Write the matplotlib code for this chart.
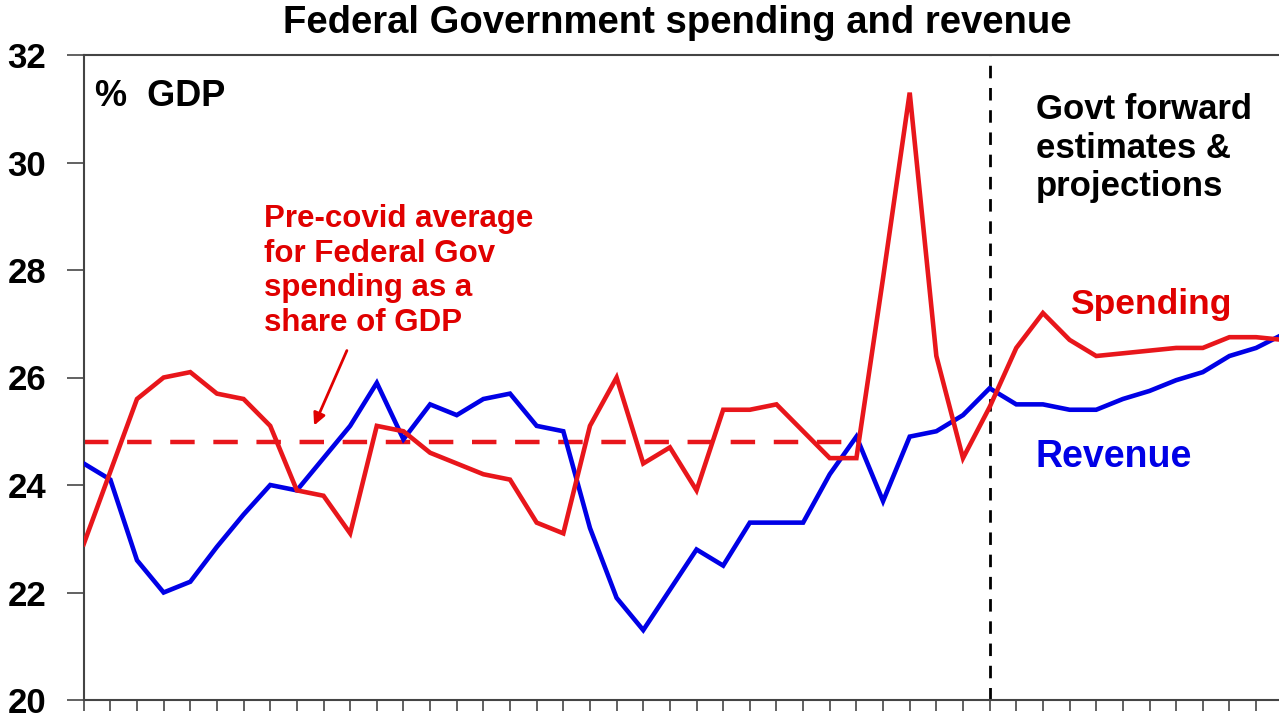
import numpy as np
import matplotlib
matplotlib.use("Agg")
import matplotlib.pyplot as plt

plt.rcParams["font.family"] = ["Liberation Sans", "DejaVu Sans"]

# annual points, financial years (x labels cut off in the source)
spending = [22.9, 24.25, 25.6, 26.0, 26.1, 25.7, 25.6, 25.1, 23.9, 23.8,
            23.1, 25.1, 25.0, 24.6, 24.4, 24.2, 24.1, 23.3, 23.1, 25.1,
            26.0, 24.4, 24.7, 23.9, 25.4, 25.4, 25.5, 25.0, 24.5, 24.5,
            27.85, 31.3, 26.4, 24.5, 25.45, 26.55, 27.2, 26.7, 26.4, 26.45,
            26.5, 26.55, 26.55, 26.75, 26.75, 26.7]
revenue = [24.4, 24.1, 22.6, 22.0, 22.2, 22.85, 23.45, 24.0, 23.9, 24.5,
           25.1, 25.9, 24.85, 25.5, 25.3, 25.6, 25.7, 25.1, 25.0, 23.2,
           21.9, 21.3, 22.05, 22.8, 22.5, 23.3, 23.3, 23.3, 24.2, 24.9,
           23.7, 24.9, 25.0, 25.3, 25.8, 25.5, 25.5, 25.4, 25.4, 25.6,
           25.75, 25.95, 26.1, 26.4, 26.55, 26.8]
precovid_avg = 24.8
avg_end = 29          # last pre-covid year index
forecast_start = 34   # start of forward estimates
yticks = [20, 22, 24, 26, 28, 30, 32]

RED = "#E8161B"
BLUE = "#0000E6"
TXT_RED = "#E00000"

x = np.arange(len(spending))

fig = plt.figure(figsize=(12.79, 7.2), dpi=100)
ax = fig.add_axes([83.7 / 1279, 20 / 720, (1279 - 83.7) / 1279, 645 / 720])

ax.plot(x, revenue, color=BLUE, lw=3.3, solid_joinstyle="miter", zorder=3)
ax.plot(x, spending, color=RED, lw=3.3, solid_joinstyle="miter", zorder=4)
ax.plot([0, avg_end], [precovid_avg, precovid_avg], color=RED, lw=3.2,
        dashes=(5.5, 4.2), zorder=2)
ax.axvline(forecast_start, color="black", lw=2.0, dashes=(4.5, 3.5), zorder=1)

ax.set_xlim(0, 44.86)
ax.set_ylim(20, 32)
ax.set_xticks(np.arange(0, 45))
ax.set_xticklabels([])
ax.set_yticks(yticks)
ax.set_yticklabels([str(v) for v in yticks], fontsize=25, fontweight="bold")
ax.tick_params(axis="y", direction="out", length=12, width=1.3, color="#555555", pad=15)
ax.tick_params(axis="x", direction="out", length=8, width=1.3, color="#555555")
for s in ["left", "bottom", "top"]:
    ax.spines[s].set_color("#444444")
    ax.spines[s].set_linewidth(1.5)
ax.spines["right"].set_visible(False)

fig.text(677 / 1279, 0.968, "Federal Government spending and revenue", ha="center", va="center",
         fontsize=27.5, fontweight="bold")
fig.text(95 / 1279, 1 - 97 / 720, "%  GDP", ha="left", va="center", fontsize=26,
         fontweight="bold")
fig.text(1036 / 1279, 1 - 148 / 720, "Govt forward\nestimates &\nprojections",
         ha="left", va="center", fontsize=25, fontweight="bold", linespacing=1.2)
fig.text(264 / 1279, 1 - 271 / 720, "Pre-covid average\nfor Federal Gov\nspending as a\nshare of GDP",
         ha="left", va="center", fontsize=22.5, fontweight="bold", color=TXT_RED,
         linespacing=1.2)
fig.text(1070 / 1279, 1 - 304 / 720, "Spending", ha="left", va="center", fontsize=25.5,
         fontweight="bold", color=TXT_RED)
fig.text(1036 / 1279, 1 - 457 / 720, "Revenue", ha="left", va="center", fontsize=27,
         fontweight="bold", color=BLUE)

ax.annotate("", xy=(313 / 1279, 1 - 428 / 720), xytext=(348 / 1279, 1 - 348 / 720),
            xycoords="figure fraction", textcoords="figure fraction",
            arrowprops=dict(arrowstyle="-|>", color=TXT_RED, lw=2, mutation_scale=18))

fig.savefig("out.png", dpi=100)
